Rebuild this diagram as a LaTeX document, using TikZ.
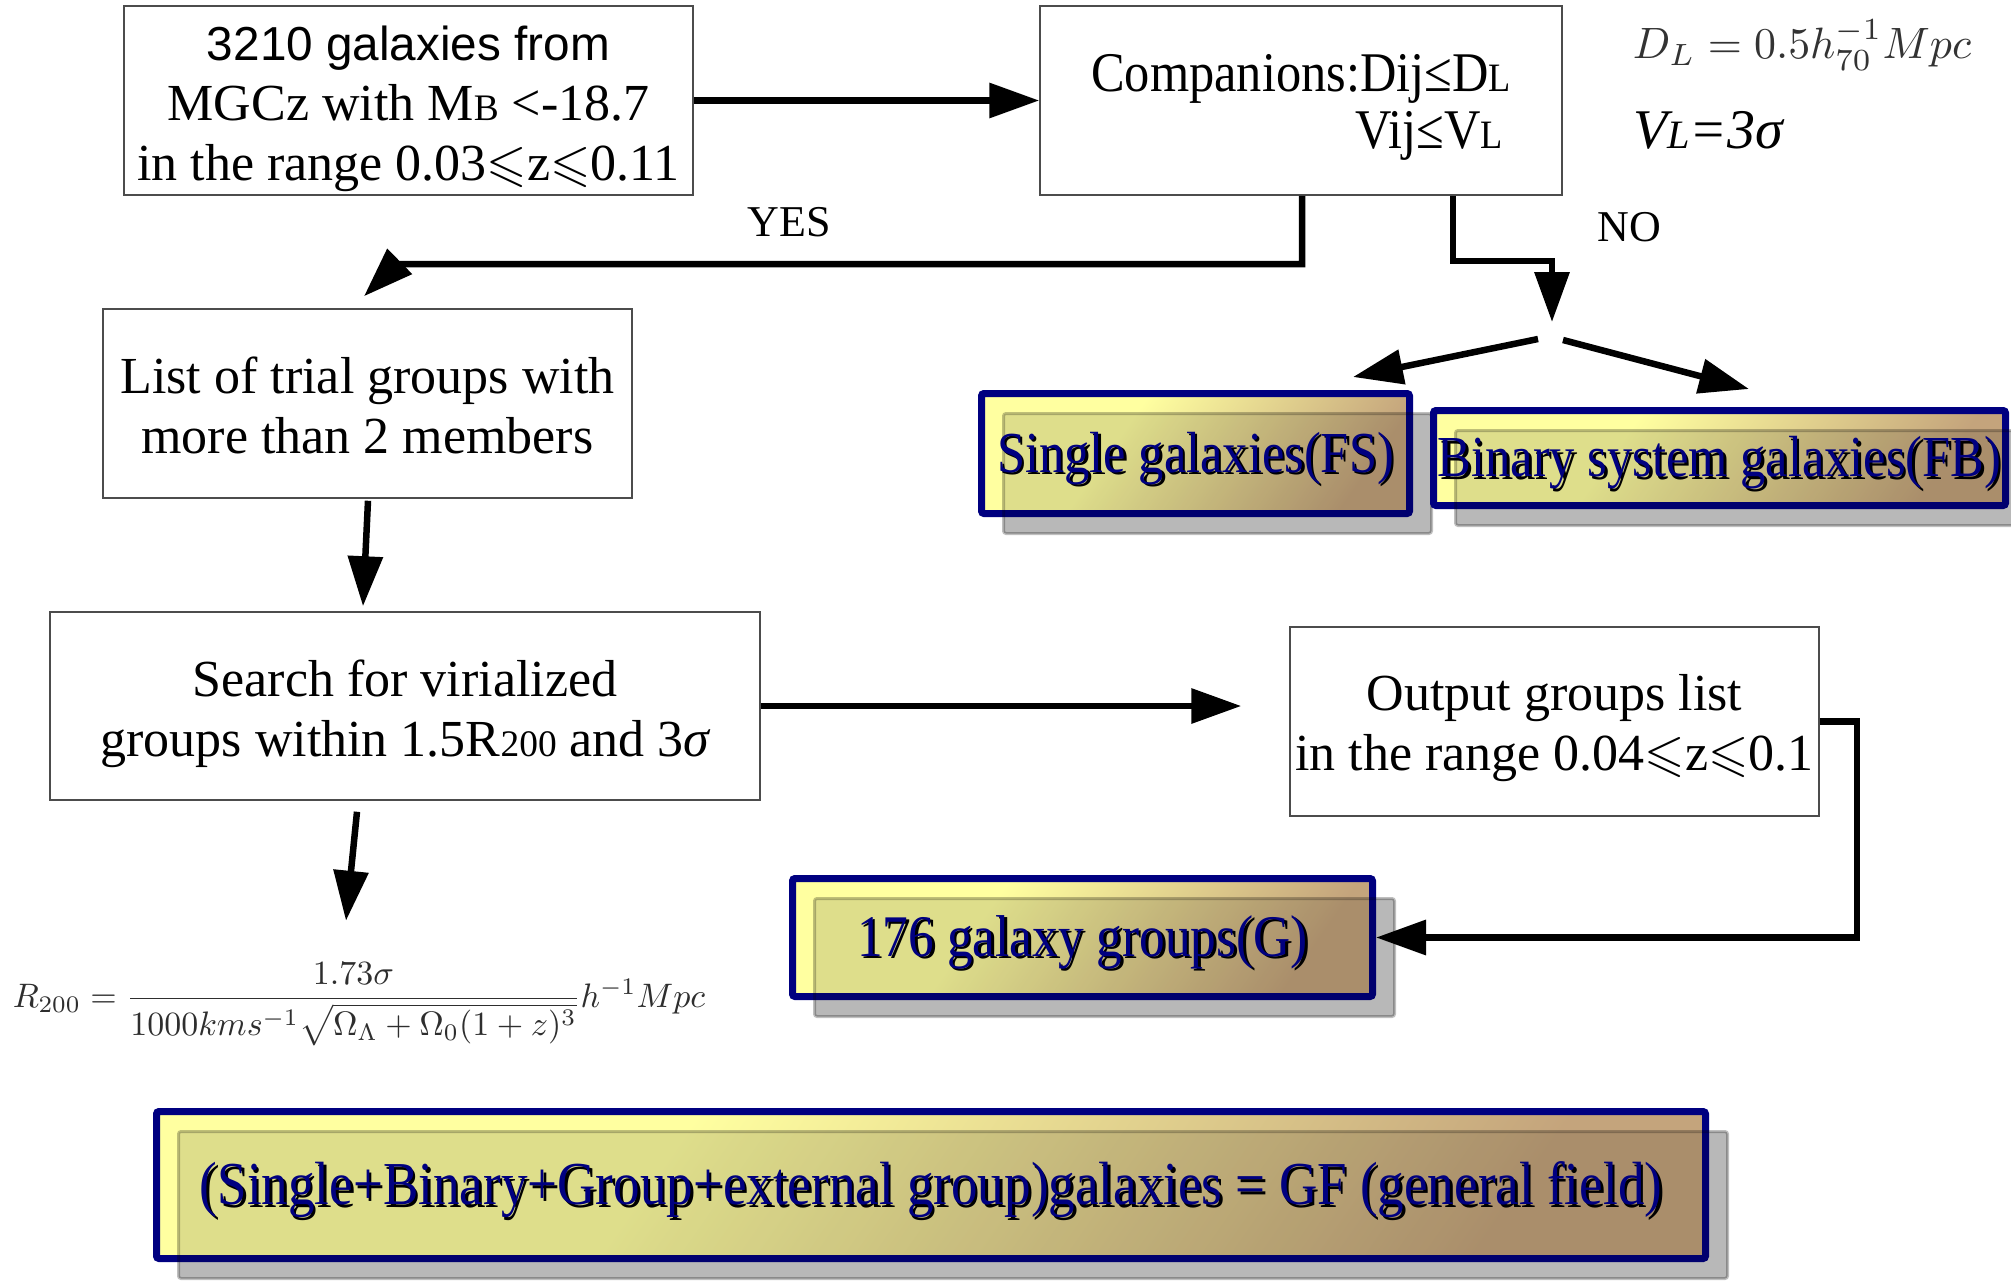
\documentclass[tikz,border=0pt]{standalone}
\usepackage{fontspec}
\usepackage{amsmath,amssymb}
\usepackage{graphicx}
\usetikzlibrary{arrows.meta,calc}
\setmainfont{Liberation Serif}
\newfontfamily\sansf{Liberation Sans}
\newfontfamily\condf[FakeStretch=0.87]{Liberation Serif}
\newfontfamily\compf[FakeStretch=0.9]{Liberation Serif}
\definecolor{navyb}{HTML}{000080}
\definecolor{fy}{HTML}{FFFFA0}
\definecolor{fb}{HTML}{C4A47C}
\pgfdeclarehorizontalshading{fancyshade}{100bp}{color(0bp)=(fy); color(25bp)=(fy); color(38bp)=(fy); color(75bp)=(fb); color(100bp)=(fb)}
\newcommand\sm[1]{\scalebox{0.72}{#1}}
\newcommand\shtext[1]{\raisebox{-6pt}[\height][\depth]{\rlap{\hspace*{2.5pt}\raisebox{-2.5pt}{\color{black}#1}}{\color{navyb}#1}}}
\newcommand\blk[3]{\raisebox{#1}[\height][\depth]{\begin{tabular}{@{}#2@{}}#3\end{tabular}}}
\tikzset{
  plainbox/.style={draw=black!70, line width=1.5pt, fill=white, inner sep=0pt,
    font=\fontsize{52pt}{60pt}\selectfont},
  fancy/.style={draw=navyb, line width=7pt, rounded corners=2.5pt, shade, shading=fancyshade,
    shading angle=-35, inner sep=0pt,
    preaction={transform canvas={shift={(22pt,-20pt)}}, fill=black!17},
    postaction={transform canvas={shift={(22pt,-20pt)}}, fill=black, fill opacity=0.13,
      draw=black, draw opacity=0.25, line width=3pt}},
  arr/.style={line width=6.5pt, -{Triangle[length=50pt,width=34pt]}},
  lbl/.style={font=\fontsize{44pt}{44pt}\selectfont, inner sep=0pt}
}
\begin{document}
\begin{tikzpicture}[x=1pt,y=-1pt]
\fill[white] (0,0) rectangle (2011,1282);
\useasboundingbox (0,0) rectangle (2011,1282);

% plain boxes
\node[plainbox, minimum width=569pt, minimum height=189pt] (b1) at (408.5,100.5)
  {\blk{-8pt}{c}{{\sansf\fontsize{47.7pt}{60pt}\selectfont 3210 galaxies from}\\MGCz with M\sm{B} <-18.7\\in the range 0.03$\leqslant$z$\leqslant$0.11}};
\node[plainbox, minimum width=522pt, minimum height=189pt,
  font=\compf\fontsize{56pt}{57pt}\selectfont] (b2) at (1301,100.5)
  {\blk{-8pt}{r}{Companions:Dij≤D\sm{L}\\Vij≤V\sm{L}\hspace*{8pt}}};
\node[plainbox, minimum width=529pt, minimum height=189pt] (list) at (367.5,403.5)
  {\blk{-8pt}{c}{List of trial groups with\\more than 2 members}};
\node[plainbox, minimum width=710pt, minimum height=188pt] (search) at (405,706)
  {\blk{-8pt}{c}{Search for virialized\\groups within 1.5R\sm{200} and 3{\itshape σ}}};
\node[plainbox, minimum width=529pt, minimum height=189pt] (output) at (1554.5,721.5)
  {\blk{-7pt}{c}{Output groups list\\in the range 0.04$\leqslant$z$\leqslant$0.1}};

% fancy boxes
\node[fancy, minimum width=428pt, minimum height=120pt, font=\condf\fontsize{58pt}{60pt}\selectfont]
  (single) at (1195.5,453.5) {\shtext{Single galaxies(FS)}};
\node[fancy, minimum width=572pt, minimum height=95pt, font=\condf\fontsize{58pt}{60pt}\selectfont]
  (binary) at (1719.5,458) {\shtext{Binary system galaxies(FB)}};
\node[fancy, minimum width=580pt, minimum height=118pt, font=\condf\fontsize{59pt}{60pt}\selectfont]
  (g) at (1082.5,937.5) {\shtext{176 galaxy groups(G)}};
\node[fancy, minimum width=1549pt, minimum height=147pt, font=\condf\fontsize{61pt}{62pt}\selectfont]
  (gf) at (931,1185) {\shtext{(Single+Binary+Group+external group)galaxies = GF (general field)}};

% formulas and labels
\node[text=black!80, inner sep=0pt] (dl) at (1802,45)
  {\resizebox{338pt}{!}{$D_L = 0.5h_{70}^{-1}Mpc$}};
\node[anchor=west, inner sep=0pt, font=\itshape\fontsize{56pt}{56pt}\selectfont] (vl) at (1633,130)
  {V\sm{L}=3σ};
\node[text=black!82, inner sep=0pt] (r200) at (359,1004)
  {\resizebox{692pt}{!}{$R_{200} = \dfrac{1.73\sigma}{1000kms^{-1}\sqrt{\Omega_\Lambda+\Omega_0(1+z)^3}}h^{-1}Mpc$}};
\node[lbl] (yes) at (789,222) {YES};
\node[lbl] (no) at (1629,227) {NO};

\coordinate (split) at (1552,322);

% connectors
\draw[arr] (b1.east) -- (b2.west);
\draw[arr] ($(b2.south)+(1,0)$) |- (397,264) -- ($(list.north)+(-3.5,-12)$);
\draw[arr] ($(b2.south)+(152,0)$) |- ($(split)+(0,-61)$) -- (split);
\draw[arr] ($(split)+(-14,17)$) -- ($(single.north east)+(-60,-13)$);
\draw[arr] ($(split)+(11,18)$) -- ($(binary.north west)+(319,-18)$);
\draw[arr] ($(list.south)+(0.5,2)$) -- ($(search.north)+(-42,-5)$);
\draw[arr] (search.east) -- ($(output.west |- search.east)+(-48,0)$);
\draw[arr] ($(search.south)+(-48,11)$) -- ($(search.south)+(-59,120)$);
\draw[arr] (output.east) -- ++(37,0) |- (g.east);
\end{tikzpicture}
\end{document}
